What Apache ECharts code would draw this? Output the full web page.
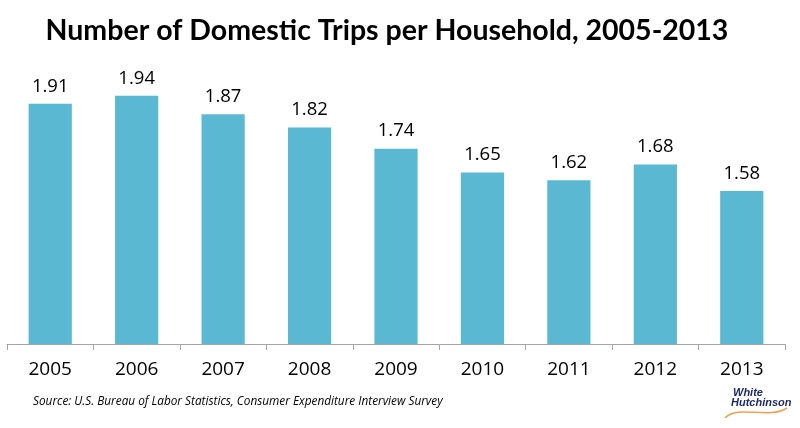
<!DOCTYPE html>
<html><head><meta charset="utf-8">
<script src="https://cdn.jsdelivr.net/npm/echarts@6/dist/echarts.min.js"></script>
<style>html,body{margin:0;padding:0;background:#fff}#c{width:800px;height:428px}</style>
</head><body><div id="c"></div>
<script>
const years = ['2005','2006','2007','2008','2009','2010','2011','2012','2013'];
const trips = [1.91,1.94,1.87,1.82,1.74,1.65,1.62,1.68,1.58];
const titleText = 'Number of Domestic Trips per Household, 2005-2013';
const sourceText = 'Source: U.S. Bureau of Labor Statistics, Consumer Expenditure Interview Survey';

const chart = echarts.init(document.getElementById('c'));
chart.setOption({
  animation: false,
  title: {
    text: titleText, left: 382, top: 11, textAlign: 'center',
    textStyle: {fontFamily: 'Lato', fontWeight: 'bold', fontSize: 28.5, color: '#000'}
  },
  grid: {left: 7, right: 15, top: 80, bottom: 84, containLabel: false},
  xAxis: {
    type: 'category', data: years,
    axisLine: {lineStyle: {color: '#a6a6a6', width: 1}},
    axisTick: {show: true, length: 6, lineStyle: {color: '#a6a6a6'}},
    axisLabel: {fontFamily: 'Open Sans', fontSize: 19, color: '#000', margin: 16}
  },
  yAxis: {type: 'value', min: 1, max: 2, show: false, splitLine: {show: false}},
  series: [{
    type: 'bar', data: trips, barWidth: '50%',
    itemStyle: {color: '#5BB8D2'},
    label: {show: true, position: 'top', distance: 8, fontFamily: 'Open Sans', fontSize: 18.5, color: '#000',
      formatter: p => p.value.toFixed(2)}
  }],
  graphic: [
    {type: 'text', left: 33, top: 396, style: {text: sourceText, fontFamily: 'Open Sans', fontStyle: 'italic', fontSize: 11.8, fill: '#000'}},
    {type: 'text', left: 733, top: 387, style: {text: 'White', fontFamily: 'Liberation Sans', fontStyle: 'italic', fontWeight: 'bold', fontSize: 11, fill: '#1f2a6b'}},
    {type: 'text', left: 731, top: 397, style: {text: 'Hutchinson', fontFamily: 'Liberation Sans', fontStyle: 'italic', fontWeight: 'bold', fontSize: 11, fill: '#1f2a6b'}},
    {type: 'bezierCurve', shape: {x1: 725, y1: 418, x2: 787, y2: 408, cpx1: 738, cpy1: 404, cpx2: 768, cpy2: 420}, style: {stroke: '#f0a050', lineWidth: 1.5, fill: null}}
  ]
});
</script></body></html>
